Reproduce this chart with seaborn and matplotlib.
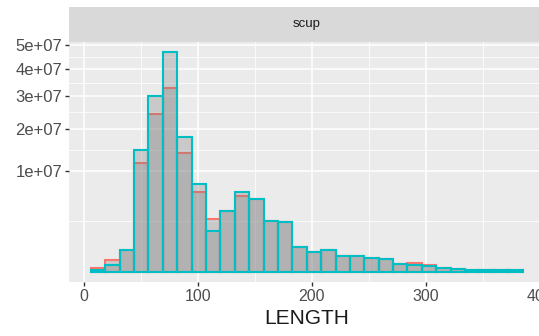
import numpy as np
import pandas as pd
import seaborn as sns
import matplotlib.pyplot as plt
from matplotlib.ticker import FixedLocator, NullFormatter

# histogram range (30 bins, ggplot default)
length_min = 6.0
length_max = 385.0
n_bins = 30

# counts per bin (sqrt y scale)
counts_teal = [5e3, 5.3e4, 4.85e5, 1.45e7, 3.01e7, 4.71e7, 1.78e7, 7.5e6, 1.6e6, 3.65e6,
               6.3e6, 5.17e6, 2.55e6, 2.39e6, 6.1e5, 4.1e5, 4.85e5, 2.4e5, 2.6e5, 1.9e5,
               1.74e5, 6.3e4, 4.3e4, 3.1e4, 1.3e4, 1.1e4, 5.6e3, 4e3, 5e3, 5e3]
counts_red = [1.5e4, 1.49e5, 4.85e5, 1.16e7, 2.43e7, 3.28e7, 1.37e7, 6.3e6, 2.73e6, 3.65e6,
              5.64e6, 5.17e6, 2.55e6, 2.39e6, 6.1e5, 4.1e5, 4.85e5, 2.4e5, 2.6e5, 1.9e5,
              1.74e5, 6.3e4, 8.5e4, 5.3e4, 1.3e4, 1.1e4, 5.6e3, 4e3, 5e3, 5e3]

y_breaks = [1e7, 2e7, 3e7, 4e7, 5e7]
y_labels = ["1e+07", "2e+07", "3e+07", "4e+07", "5e+07"]
x_breaks = [0, 100, 200, 300, 400]
facet = "scup"

plt.rcParams['font.family'] = ['Liberation Sans', 'DejaVu Sans']

edges = np.linspace(length_min, length_max, n_bins + 1)
centers = (edges[:-1] + edges[1:]) / 2
df = pd.DataFrame({"LENGTH": np.concatenate([centers, centers]),
                   "n": counts_red + counts_teal,
                   "grp": ["red"] * n_bins + ["teal"] * n_bins})

fig = plt.figure(figsize=(5.39, 3.36), dpi=100)
ax = fig.add_axes([0.1284, 0.1616, 0.8813, 0.7143])

# sqrt scale on y (sign-aware so the padding below zero works)
fwd = lambda v: np.sign(v) * np.sqrt(np.abs(v))
inv = lambda v: np.sign(v) * v ** 2
ax.set_yscale('function', functions=(fwd, inv))

for grp, col in [("red", "#F8766D"), ("teal", "#00BFC4")]:
    sub = df[df["grp"] == grp]
    sns.histplot(data=sub, x="LENGTH", weights="n", bins=n_bins,
                 binrange=(length_min, length_max), ax=ax,
                 color="#7F7F7F", alpha=0.31, edgecolor=col, linewidth=1.5)

ax.set_facecolor('#EBEBEB')
ax.set_ylim(-(300 ** 2), 7180 ** 2)
ax.set_xlim(-13, 404)
for s in ax.spines.values():
    s.set_visible(False)

ax.yaxis.set_major_locator(FixedLocator(y_breaks))
ax.set_yticklabels(y_labels)
sq = np.sqrt([0] + y_breaks)
ax.yaxis.set_minor_locator(FixedLocator(((sq[:-1] + sq[1:]) / 2) ** 2))
ax.yaxis.set_minor_formatter(NullFormatter())
ax.xaxis.set_major_locator(FixedLocator(x_breaks))
ax.xaxis.set_minor_locator(FixedLocator([50, 150, 250, 350]))
ax.grid(True, which='major', color='white', linewidth=1.1)
ax.grid(True, which='minor', color='white', linewidth=0.55)
ax.set_axisbelow(True)
ax.tick_params(which='major', color='#333333', length=3, width=1,
               labelcolor='#4D4D4D', pad=2)
ax.tick_params(axis='y', labelsize=12)
ax.tick_params(axis='x', labelsize=11.5)
ax.tick_params(which='minor', length=0)
ax.set_ylabel('')
ax.set_xlabel('LENGTH', fontsize=15, color='#1A1A1A', labelpad=4)

# facet strip
strip = fig.add_axes([0.1284, 0.8759, 0.8813, 0.1024])
strip.set_facecolor('#D9D9D9')
strip.set_xticks([])
strip.set_yticks([])
for s in strip.spines.values():
    s.set_visible(False)
strip.text(0.5, 0.5, facet, ha='center', va='center', fontsize=9.5,
           color='#1A1A1A', transform=strip.transAxes)

fig.savefig('out.png', dpi=100)
